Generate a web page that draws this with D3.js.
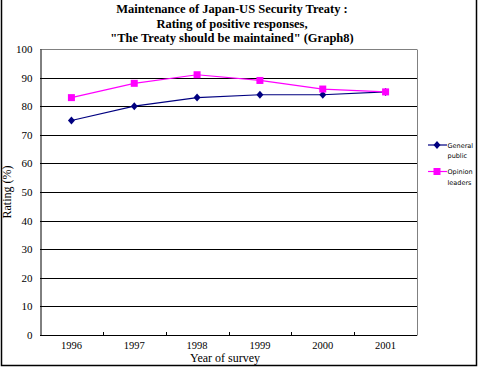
<!DOCTYPE html>
<html><head><meta charset="utf-8">
<script src="https://cdn.jsdelivr.net/npm/d3@7"></script>
<style>body{margin:0;background:#fff}svg{display:block}</style>
</head><body>
<svg id="c" width="478" height="367"></svg>
<script>
const years = ["1996","1997","1998","1999","2000","2001"];
const generalPublic = [75, 80, 83, 84, 84, 85];
const opinionLeaders = [83, 88, 91, 89, 86, 85];
const yTicks = [0,10,20,30,40,50,60,70,80,90,100];
const titleLines = ["Maintenance of Japan-US Security Treaty :", "Rating of positive responses,", "\"The Treaty should be maintained\" (Graph8)"];

const svg = d3.select("#c");
const L = 40, R = 417, T = 49, B = 335;
const x = d3.scaleBand().domain(years).range([L, R]);
const y = d3.scaleLinear().domain([0,100]).range([B, T]);
const serif = "Liberation Serif, DejaVu Serif, serif";

// outer frame (left, right, bottom)
svg.append("path").attr("d", "M1.5,0 V365.5 H476.5 V0").attr("fill","none").attr("stroke","#000").attr("stroke-width",1.5);

// title
svg.append("g").selectAll("text").data(titleLines).join("text")
  .attr("x", 232).attr("y", (d,i)=>13+i*14.5).attr("text-anchor","middle")
  .style("font-family", serif).style("font-weight","bold").style("font-size", "12.5px").text(d=>d);

// gridlines
svg.append("g").selectAll("line").data(yTicks.filter(v=>v>0)).join("line")
  .attr("x1", L).attr("x2", R).attr("y1", d=>Math.round(y(d))+0.5).attr("y2", d=>Math.round(y(d))+0.5)
  .attr("stroke", d=>d===100?"#808080":"#000").attr("stroke-width",1);
// right border of plot
svg.append("line").attr("x1",R+0.5).attr("x2",R+0.5).attr("y1",Math.round(T)+0.5).attr("y2",B+0.5).attr("stroke","#808080");

// y axis
const ya = d3.axisLeft(y).tickValues(yTicks).tickSize(0).tickPadding(8);
const yg = svg.append("g").attr("transform",`translate(${L+0.5},0)`).call(ya);
yg.attr("font-family", null).attr("font-size", null);
yg.select(".domain").attr("stroke","#000");
yg.selectAll("text").style("font-family",serif).style("font-size","11px").attr("fill","#000");

// x axis
const xa = d3.axisBottom(x).tickSize(0).tickPadding(6);
const xg = svg.append("g").attr("transform",`translate(0,${B+0.5})`).call(xa);
xg.attr("font-family", null).attr("font-size", null);
xg.select(".domain").attr("stroke","#000").attr("d",`M${L},0H${R}`);
xg.selectAll("text").style("font-family",serif).style("font-size","10.5px").attr("fill","#000");
// tick marks at band boundaries (upward)
svg.append("g").selectAll("line").data(years.slice(1)).join("line")
  .attr("x1", d=>Math.round(x(d))+0.5).attr("x2", d=>Math.round(x(d))+0.5)
  .attr("y1", B).attr("y2", B-3).attr("stroke","#000");

// axis titles
svg.append("text").attr("transform","translate(11,192) rotate(-90)").attr("text-anchor","middle")
  .style("font-family",serif).style("font-size","12px").text("Rating (%)");
svg.append("text").attr("x",225).attr("y",362).attr("text-anchor","middle")
  .style("font-family",serif).style("font-size","12px").text("Year of survey");

const cx = d => x(d) + x.bandwidth()/2;
const series = [
  {name:["General","public"], vals: generalPublic, color:"#000080", shape:"diamond"},
  {name:["Opinion","leaders"], vals: opinionLeaders, color:"#FF00FF", shape:"square"}
];
const line = d3.line().x((d,i)=>cx(years[i])).y(d=>y(d));
function marker(g, shape, color, px, py){
  if(shape==="diamond"){
    g.append("path").attr("d",`M${px},${py-4}L${px+3.5},${py}L${px},${py+4}L${px-3.5},${py}Z`).attr("fill",color);
  } else {
    g.append("rect").attr("x",px-3.5).attr("y",py-3.5).attr("width",7).attr("height",7).attr("fill",color);
  }
}
series.forEach(s=>{
  svg.append("path").datum(s.vals).attr("d",line).attr("fill","none").attr("stroke",s.color).attr("stroke-width",1.2);
  const g = svg.append("g");
  s.vals.forEach((v,i)=>marker(g, s.shape, s.color, cx(years[i]), y(v)));
});

// legend
series.forEach((s,i)=>{
  const ly = 145 + i*26.5;
  svg.append("line").attr("x1",428).attr("x2",447).attr("y1",ly).attr("y2",ly).attr("stroke",s.color).attr("stroke-width",1.2);
  marker(svg, s.shape, s.color, 437, ly);
  svg.append("g").selectAll("text").data(s.name).join("text")
    .attr("x",447.5).attr("y",(d,j)=>ly+2.5+j*10.5)
    .style("font-family","DejaVu Sans, sans-serif").style("font-size","6.5px").text(d=>d);
});
</script>
</body></html>
